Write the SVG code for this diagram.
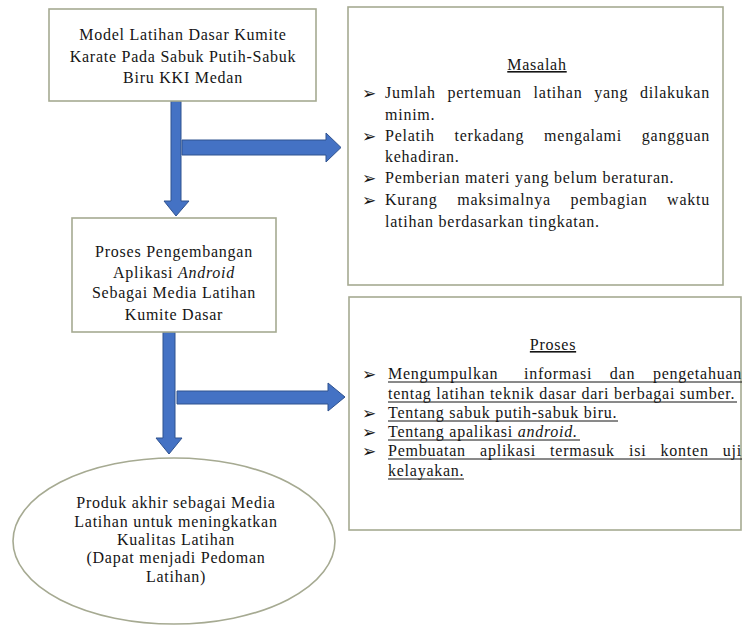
<svg xmlns="http://www.w3.org/2000/svg" width="744" height="627" viewBox="0 0 744 627">
<style>
.t{font-family:"Liberation Serif","Times New Roman",serif;font-size:16px;letter-spacing:0.75px;fill:#151515}
.c{text-anchor:middle}
.i{font-style:italic}
.u{text-decoration:underline}
.b{font-family:"DejaVu Sans",sans-serif;font-size:17px;font-weight:bold;fill:#151515}
.box{fill:#ffffff;stroke:#a6aa92;stroke-width:1.6}
.arr{fill:#4472c4;stroke:#2f528f;stroke-width:1}
.ul{stroke:#151515;stroke-width:1}
</style>
<rect width="744" height="627" fill="#ffffff"/>
<g id="connectors">
<polygon class="arr" points="171,101 181,101 181,201 189,201 176,216 164,201 171,201"/>
<polygon class="arr" points="182,140 326,140 326,133 341,147.5 326,162 326,155 182,155"/>
<polygon class="arr" points="163,332 175,332 175,438 182,438 169,454 156,438 163,438"/>
<polygon class="arr" points="177,391 328,391 328,383 345,397 328,411 328,404 177,404"/>
</g>
<g id="node-model">
<rect class="box" x="49" y="9" width="267" height="92"/>
<text class="t c" x="183" y="40">Model Latihan Dasar Kumite</text>
<text class="t c" x="183" y="62">Karate Pada Sabuk Putih-Sabuk</text>
<text class="t c" x="183" y="83">Biru KKI Medan</text>
</g>
<g id="node-proses-pengembangan">
<rect class="box" x="72" y="218" width="204" height="114"/>
<text class="t c" x="174" y="257">Proses Pengembangan</text>
<text class="t c" x="174" y="278">Aplikasi <tspan class="i">Android</tspan></text>
<text class="t c" x="174" y="298">Sebagai Media Latihan</text>
<text class="t c" x="174" y="320">Kumite Dasar</text>
</g>
<g id="node-produk">
<ellipse class="box" cx="174" cy="541" rx="161" ry="83"/>
<text class="t c" x="176" y="508">Produk akhir sebagai Media</text>
<text class="t c" x="176" y="527">Latihan untuk meningkatkan</text>
<text class="t c" x="176" y="545">Kualitas Latihan</text>
<text class="t c" x="176" y="563">(Dapat menjadi Pedoman</text>
<text class="t c" x="176" y="582">Latihan)</text>
</g>
<g id="node-masalah">
<rect class="box" x="348" y="7" width="375" height="278"/>
<text class="t c u" x="537" y="70">Masalah</text>
<text class="b" x="362" y="99">➢</text>
<text class="t" y="98"><tspan x="385">Jumlah</tspan><tspan x="447.5">pertemuan</tspan><tspan x="533.6">latihan</tspan><tspan x="594.2">yang</tspan><tspan x="640.1">dilakukan</tspan></text>
<text class="t" x="385" y="120">minim.</text>
<text class="b" x="362" y="142">➢</text>
<text class="t" y="141"><tspan x="385">Pelatih</tspan><tspan x="454.5">terkadang</tspan><tspan x="544.1">mengalami</tspan><tspan x="641.8">gangguan</tspan></text>
<text class="t" x="385" y="162">kehadiran.</text>
<text class="b" x="362" y="184">➢</text>
<text class="t" x="385" y="183">Pemberian materi yang belum beraturan.</text>
<text class="b" x="362" y="206">➢</text>
<text class="t" y="205"><tspan x="385">Kurang</tspan><tspan x="457.2">maksimalnya</tspan><tspan x="570.5">pembagian</tspan><tspan x="667.1">waktu</tspan></text>
<text class="t" x="385" y="227">latihan berdasarkan tingkatan.</text>
</g>
<g id="node-proses">
<rect class="box" x="349" y="297" width="392" height="233"/>
<text class="t c u" x="553" y="350">Proses</text>
<text class="b" x="362" y="380">➢</text>
<text class="t" y="379"><tspan x="388">Mengumpulkan</tspan><tspan x="524">informasi</tspan><tspan x="609.8">dan</tspan><tspan x="652.9">pengetahuan</tspan></text>
<line class="ul" x1="388" y1="382" x2="742" y2="382"/>
<text class="t" x="388" y="399">tentag latihan teknik dasar dari berbagai sumber.</text>
<line class="ul" x1="388" y1="402" x2="737" y2="402"/>
<text class="b" x="362" y="419">➢</text>
<text class="t" x="388" y="418">Tentang sabuk putih-sabuk biru.</text>
<line class="ul" x1="388" y1="421" x2="618" y2="421"/>
<text class="b" x="362" y="438">➢</text>
<text class="t" x="388" y="437">Tentang apalikasi <tspan class="i">android.</tspan></text>
<line class="ul" x1="388" y1="440" x2="580" y2="440"/>
<text class="b" x="362" y="457">➢</text>
<text class="t" y="456"><tspan x="388">Pembuatan</tspan><tspan x="480.1">aplikasi</tspan><tspan x="550.1">termasuk</tspan><tspan x="629">isi</tspan><tspan x="660.6">konten</tspan><tspan x="722.8">uji</tspan></text>
<line class="ul" x1="388" y1="459" x2="742" y2="459"/>
<text class="t" x="388" y="476">kelayakan.</text>
<line class="ul" x1="388" y1="479" x2="464" y2="479"/>
</g>
</svg>
